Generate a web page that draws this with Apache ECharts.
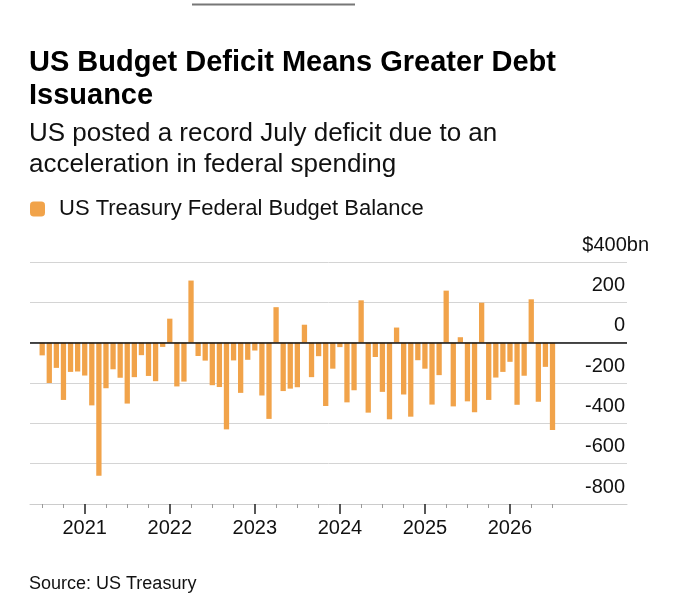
<!DOCTYPE html>
<html lang="en">
<head>
<meta charset="UTF-8">
<title>US Budget Deficit</title>
<script src="https://cdn.jsdelivr.net/npm/echarts@6/dist/echarts.min.js"></script>
<style>
  html, body { margin: 0; padding: 0; background: #fff; }
  #main { width: 680px; height: 610px; }
</style>
</head>
<body>
<div id="main"></div>
<script>
// monthly budget balance, $bn
var months = [
  '2020-07','2020-08','2020-09','2020-10','2020-11','2020-12',
  '2021-01','2021-02','2021-03','2021-04','2021-05','2021-06','2021-07','2021-08','2021-09','2021-10','2021-11','2021-12',
  '2022-01','2022-02','2022-03','2022-04','2022-05','2022-06','2022-07','2022-08','2022-09','2022-10','2022-11','2022-12',
  '2023-01','2023-02','2023-03','2023-04','2023-05','2023-06','2023-07','2023-08','2023-09','2023-10','2023-11','2023-12',
  '2024-01','2024-02','2024-03','2024-04','2024-05','2024-06','2024-07','2024-08','2024-09','2024-10','2024-11','2024-12',
  '2025-01','2025-02','2025-03','2025-04','2025-05','2025-06','2025-07','2025-08','2025-09','2025-10','2025-11','2025-12',
  '2026-01','2026-02','2026-03','2026-04','2026-05','2026-06','2026-07'
];
var balance = [
  -63, -200, -125, -284, -145, -143,
  -163, -311, -660, -226, -132, -174, -302, -171, -62, -165, -191, -21,
  119, -217, -193, 308, -66, -89, -211, -220, -430, -88, -249, -85,
  -39, -262, -378, 176, -240, -228, -221, 89, -171, -67, -314, -129,
  -22, -296, -236, 210, -347, -71, -244, -380, 75, -257, -367, -87,
  -129, -307, -161, 258, -316, 27, -291, -345, 198, -284, -173, -145,
  -95, -308, -164, 215, -293, -120, -433
];
var years = ['2021', '2022', '2023', '2024', '2025', '2026'];
var yTicks = [-800, -600, -400, -200, 0, 200, 400];

var FONT = 'Liberation Sans';
var ORANGE = '#f1a34a';

// x position = months since Jan 2020
function monthIndex(s) {
  var p = s.split('-');
  return (+p[0] - 2020) * 12 + (+p[1] - 1);
}
var barData = months.map(function (m, i) { return [monthIndex(m), balance[i]]; });
var yearTicks = years.map(function (y) { return (+y - 2020) * 12; });
var first = monthIndex(months[0]), last = monthIndex(months[months.length - 1]);
var quarterTicks = [];
for (var q = first; q <= last; q += 3) {
  if (q % 12 !== 0) quarterTicks.push(q);
}

var chart = echarts.init(document.getElementById('main'));
chart.setOption({
  animation: false,
  textStyle: { fontFamily: FONT },
  title: [
    {
      text: 'US Budget Deficit Means Greater Debt\nIssuance',
      left: 29, top: 46, padding: 0,
      textStyle: { fontFamily: FONT, fontSize: 29, fontWeight: 'bold', lineHeight: 33, color: '#000' }
    },
    {
      text: 'US posted a record July deficit due to an\nacceleration in federal spending',
      left: 29, top: 118, padding: 0,
      textStyle: { fontFamily: FONT, fontSize: 26, fontWeight: 'normal', lineHeight: 31, color: '#111' }
    },
    {
      text: 'Source: US Treasury',
      left: 29, top: 574, padding: 0,
      textStyle: { fontFamily: FONT, fontSize: 18, fontWeight: 'normal', lineHeight: 20, color: '#111' }
    }
  ],
  graphic: [{
    type: 'line',
    shape: { x1: 192, y1: 4.5, x2: 355, y2: 4.5 },
    style: { stroke: '#777', lineWidth: 2 }
  }],
  legend: {
    left: 30, top: 198, padding: 0,
    itemWidth: 15, itemHeight: 15,
    icon: 'roundRect',
    data: ['US Treasury Federal Budget Balance'],
    textStyle: { fontFamily: FONT, fontSize: 22, color: '#111', padding: [0, 0, 0, 9] }
  },
  grid: { left: 30, right: 53, top: 262, bottom: 106 },
  xAxis: [
    {
      type: 'value', min: 4.28, max: 88.51, position: 'bottom',
      splitLine: { show: false },
      axisLine: { show: true, onZero: false, lineStyle: { color: '#ccc', width: 1 } },
      axisTick: { show: true, customValues: yearTicks, length: 10, lineStyle: { color: '#222', width: 1.5 } },
      axisLabel: {
        customValues: yearTicks, margin: 14,
        fontFamily: FONT, fontSize: 20, lineHeight: 20, color: '#111',
        formatter: function (v) { return String(2020 + Math.round(v / 12)); }
      }
    },
    {
      type: 'value', min: 4.28, max: 88.51, position: 'bottom',
      splitLine: { show: false },
      axisLine: { show: false, onZero: false },
      axisTick: { show: true, customValues: quarterTicks, length: 4, lineStyle: { color: '#999', width: 1 } },
      axisLabel: { show: false }
    }
  ],
  yAxis: {
    type: 'value', position: 'right',
    min: -800, max: 400, interval: 200,
    axisLine: { show: false },
    axisTick: { show: false },
    splitLine: { show: true, lineStyle: { color: '#d4d4d4', width: 1 } },
    axisLabel: {
      inside: true, margin: 2,
      align: 'right', verticalAlign: 'bottom',
      fontFamily: FONT, fontSize: 20, lineHeight: 20, color: '#111',
      padding: [0, 0, 7, 0],
      formatter: function (v) {
        return v === yTicks[yTicks.length - 1] ? '{u|$' + v + 'bn}' : String(v);
      },
      rich: {
        u: { fontFamily: FONT, fontSize: 20, lineHeight: 20, color: '#111', padding: [0, -24, 0, 0] }
      }
    }
  },
  series: [{
    name: 'US Treasury Federal Budget Balance',
    type: 'bar',
    xAxisIndex: 0,
    barWidth: 5.3,
    itemStyle: { color: ORANGE },
    data: barData,
    markLine: {
      silent: true, symbol: 'none',
      label: { show: false },
      lineStyle: { color: '#111', width: 1.5, type: 'solid' },
      data: [{ yAxis: 0 }]
    }
  }]
});
</script>
</body>
</html>
